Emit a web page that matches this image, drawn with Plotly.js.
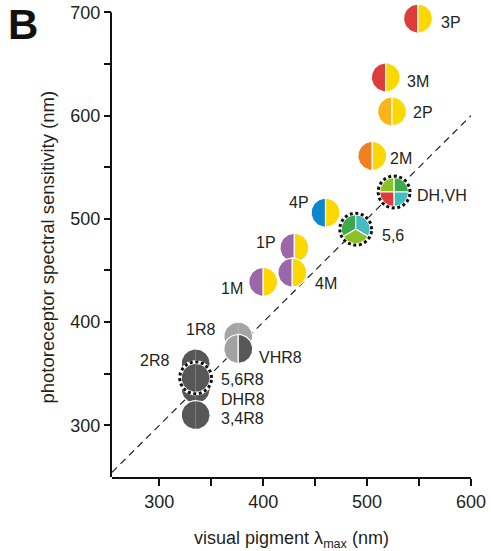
<!DOCTYPE html>
<html>
<head>
<meta charset="utf-8">
<script src="https://cdn.plot.ly/plotly-3.0.1.min.js"></script>
<style>html,body{margin:0;padding:0;background:#fff;}#chart{width:491px;height:551px;}</style>
</head>
<body>
<div id="chart"></div>
<script>
// ---- data ----
var names      = ['3P','3M','2P','2M','DH,VH','4P','5,6','1P','4M','1M','1R8','VHR8','2R8','DHR8','3,4R8','5,6R8'];
var pigmentMax = [549, 518, 524, 505, 526, 460, 489, 430, 428, 400, 376, 376, 335, 335, 335, 335];
var sensitivity= [694, 637, 604, 561, 526, 506, 490, 472, 448, 439, 386, 374, 360, 335, 310, 346];
var leftColor  = ['#dc3d3b','#dc3d3b','#f9b51a','#ef7f1f',null,'#0b87cc',null,'#9b67a8','#9b67a8','#9b67a8','#a5a5a5','#a2a2a2','#575757','#575757','#575757','#575757'];
var rightColor = ['#fdd800','#fdd800','#fdd800','#fdd800',null,'#fdd800',null,'#fdd800','#fdd800','#fdd800','#a5a5a5','#575757','#575757','#575757','#575757','#575757'];
var dottedRing = [false,false,false,false,true,false,true,false,false,false,false,false,false,false,false,true];
// multi-sector receptors: [startDeg, endDeg, colour]
var sectors = {
  'DH,VH': [[90,180,'#8cc027'],[0,90,'#3da94a'],[180,270,'#e03b3d'],[270,360,'#45bcc0']],
  '5,6':   [[90,210,'#3da94a'],[-30,90,'#45bcc0'],[210,330,'#8cc027']]
};
var identityX = [254.5, 600];
var identityY = [254.5, 600];
var xTickVals = [300,400,500,600];
var xTickText = ['300','400','500','600'];
var xMinorVals = [350,450,550];
var yTickVals = [300,400,500,600,700];
var yTickText = ['300','400','500','600','700'];
var yMinorVals = [350,450,550,650];
var yAxisTop = 700;

// ---- layout constants ----
var W = 491, H = 551, M = {l:112, r:20, t:2, b:74};
var xRange = [254.5, 600], yRange = [250, 710];
var plotW = W - M.l - M.r, plotH = H - M.t - M.b;
var ppx = plotW / (xRange[1] - xRange[0]);
var ppy = plotH / (yRange[1] - yRange[0]);
var R = 14.5, RING = 16;
var FONT = 'Liberation Sans, Arial, Helvetica, sans-serif';
var TXT = '#231f20';
function paperX(px) { return (px - M.l) / plotW; }
function paperY(py) { return (H - M.b - py) / plotH; }
var labelPlace = {
  '3P':   {a:'left',  dx:21,  dy:-3.5},
  '3M':   {a:'left',  dx:19,  dy:-4},
  '2P':   {a:'left',  dx:19,  dy:-1},
  '2M':   {a:'left',  dx:16,  dy:-3},
  'DH,VH':{a:'left',  dx:21,  dy:-3.5},
  '4P':   {a:'right', dx:-15, dy:10},
  '5,6':  {a:'left',  dx:24,  dy:-6.5},
  '1P':   {a:'right', dx:-16, dy:5},
  '4M':   {a:'left',  dx:20.5,dy:-10.5},
  '1M':   {a:'right', dx:-18, dy:-6.3},
  '1R8':  {a:'right', dx:-21.5,dy:6.7},
  'VHR8': {a:'left',  dx:19,  dy:-9},
  '2R8':  {a:'right', dx:-25, dy:3},
  'DHR8': {a:'left',  dx:23,  dy:-10},
  '3,4R8':{a:'left',  dx:23,  dy:-3.3},
  '5,6R8':{a:'left',  dx:23,  dy:-1.3}
};

function arcPts(cx, cy, a0, a1, r, withCenter) {
  var xs = [], ys = [];
  if (withCenter) { xs.push(cx); ys.push(cy); }
  var n = Math.max(4, Math.ceil(Math.abs(a1 - a0) / 4));
  for (var i = 0; i <= n; i++) {
    var a = (a0 + (a1 - a0) * i / n) * Math.PI / 180;
    xs.push(cx + r * Math.cos(a) / ppx);
    ys.push(cy + r * Math.sin(a) / ppy);
  }
  if (withCenter) { xs.push(cx); ys.push(cy); }
  return {x: xs, y: ys};
}
function fillTrace(p, color, lw) {
  return {type:'scatter', mode:'lines', x:p.x, y:p.y, fill:'toself', fillcolor:color,
          line:{color:'#ffffff', width:lw}, hoverinfo:'skip', showlegend:false};
}

var traces = [];
traces.push({type:'scatter', mode:'lines', x:identityX, y:identityY,
  line:{color:'#222', width:1.2, dash:'7px,5px'}, hoverinfo:'skip', showlegend:false});

for (var i = 0; i < names.length; i++) {
  var cx = pigmentMax[i], cy = sensitivity[i], nm = names[i];
  if (dottedRing[i]) {
    var ringW = arcPts(cx, cy, 0, 360, RING, false);
    traces.push({type:'scatter', mode:'lines', x:ringW.x, y:ringW.y, line:{color:'#fff', width:3.4},
                 hoverinfo:'skip', showlegend:false});
  }
  if (sectors[nm]) {
    sectors[nm].forEach(function (s) {
      traces.push(fillTrace(arcPts(cx, cy, s[0], s[1], R, true), s[2], 1.2));
    });
  } else if (leftColor[i] === rightColor[i]) {
    traces.push(fillTrace(arcPts(cx, cy, 0, 360, R, false), leftColor[i], 1.2));
    traces.push({type:'scatter', mode:'lines', x:[cx, cx], y:[cy - R/ppy, cy + R/ppy],
                 line:{color:'rgba(255,255,255,0.22)', width:1}, hoverinfo:'skip', showlegend:false});
  } else {
    traces.push(fillTrace(arcPts(cx, cy, 90, 270, R, true), leftColor[i], 1.2));
    traces.push(fillTrace(arcPts(cx, cy, -90, 90, R, true), rightColor[i], 1.2));
  }
  if (dottedRing[i]) {
    var ring = arcPts(cx, cy, 0, 360, RING, false);
    traces.push({type:'scatter', mode:'lines', x:ring.x, y:ring.y,
                 line:{color:'#111', width:3, dash:'3px,2.6px'}, hoverinfo:'skip', showlegend:false});
  }
}
// data points (for hover)
traces.push({type:'scatter', mode:'markers', x:pigmentMax, y:sensitivity, text:names,
  marker:{size:28, color:'rgba(0,0,0,0)'}, hovertemplate:'%{text}: %{x} nm, %{y} nm<extra></extra>', showlegend:false});

var annotations = names.map(function (nm, i) {
  var p = labelPlace[nm];
  return {x: pigmentMax[i], y: sensitivity[i], xref:'x', yref:'y', text: nm, showarrow:false,
          xanchor: p.a, yanchor:'middle', xshift: p.dx, yshift: p.dy,
          font:{family:FONT, size:16, color:TXT}};
});
annotations.push({text:'<b>B</b>', xref:'paper', yref:'paper', x:paperX(6), y:paperY(24.5),
  xanchor:'left', yanchor:'middle', showarrow:false, font:{family:FONT, size:42, color:'#111'}});
annotations.push({text:'photoreceptor spectral sensitivity (nm)', xref:'paper', yref:'paper',
  x:paperX(47), y:paperY(247.5), xanchor:'center', yanchor:'middle', textangle:-90, showarrow:false,
  font:{family:FONT, size:18.5, color:TXT}});

var axisCommon = {showgrid:false, zeroline:false, linecolor:'#111', linewidth:2,
  ticks:'outside', ticklen:7, tickwidth:2, tickcolor:'#111', tickmode:'array',
  tickfont:{family:FONT, size:18, color:TXT}, fixedrange:true};

var layout = {
  width:W, height:H, margin:M, paper_bgcolor:'#fff', plot_bgcolor:'#fff',
  font:{family:FONT, color:TXT},
  xaxis: Object.assign({}, axisCommon, {range:xRange, tickvals:xTickVals, ticktext:xTickText, showline:true,
    minor:{tickmode:'array', tickvals:xMinorVals, ticks:'outside', ticklen:7, tickwidth:2, tickcolor:'#111', showgrid:false},
    title:{text:'visual pigment λ<sub>max</sub> (nm)', font:{family:FONT, size:18, color:TXT}, standoff:24}}),
  yaxis: Object.assign({}, axisCommon, {range:yRange, tickvals:yTickVals, ticktext:yTickText, showline:false,
    minor:{tickmode:'array', tickvals:yMinorVals, ticks:'outside', ticklen:7, tickwidth:2, tickcolor:'#111', showgrid:false}}),
  shapes: [{type:'line', xref:'paper', yref:'y', x0:-1/plotW, x1:-1/plotW,
            y0:yRange[0] - 2/ppy, y1:yAxisTop, line:{color:'#111', width:2}, layer:'above'}],
  annotations: annotations,
  showlegend:false
};

Plotly.newPlot('chart', traces, layout, {displayModeBar:false});
</script>
</body>
</html>
